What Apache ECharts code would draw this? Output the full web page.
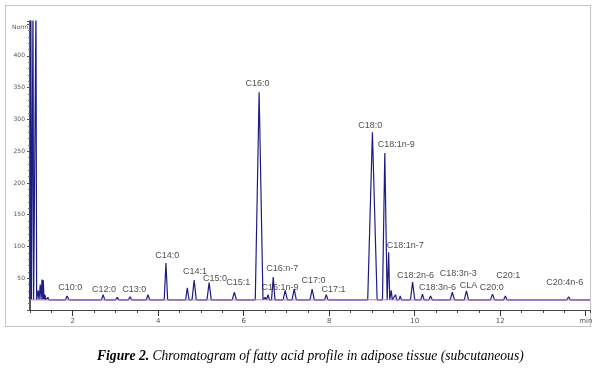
<!DOCTYPE html>
<html>
<head>
<meta charset="utf-8">
<script src="https://cdn.jsdelivr.net/npm/echarts@6/dist/echarts.min.js"></script>
<style>
  html, body { margin: 0; padding: 0; background: #fff; }
  #chart { width: 596px; height: 373px; }
</style>
</head>
<body>
<div id="chart"></div>
<script>
// retention time (min), peak height (Norm.), half width (min)
var peakTimes   = [1.02, 1.07, 1.14, 1.19, 1.24, 1.28, 1.31, 1.35, 1.42, 1.87, 2.71, 3.04, 3.34, 3.76, 4.18, 4.68, 4.84, 5.19, 5.45, 5.78, 6.03, 6.36, 6.50, 6.57, 6.69, 6.97, 7.18, 7.60, 7.93, 8.26, 9.01, 9.30, 9.39, 9.45, 9.55, 9.66, 9.95, 10.18, 10.37, 10.88, 11.21, 11.54, 11.82, 12.12, 13.60];
var peakHeights = [480, 480, 480, 31, 40, 48, 47, 24, 20, 22, 24, 20, 21, 24, 74, 35, 47, 43, 19, 28, 18, 343, 20, 24, 52, 31, 33, 33, 24, 19, 280, 247, 91, 31, 24, 22, 44, 25, 22, 28, 30, 18, 25, 22, 21];
var peakWidths  = [0.015, 0.015, 0.015, 0.02, 0.02, 0.02, 0.02, 0.02, 0.02, 0.04, 0.04, 0.04, 0.04, 0.04, 0.04, 0.04, 0.05, 0.05, 0.04, 0.05, 0.04, 0.09, 0.03, 0.03, 0.04, 0.05, 0.05, 0.05, 0.04, 0.04, 0.11, 0.055, 0.025, 0.025, 0.03, 0.03, 0.05, 0.04, 0.04, 0.05, 0.05, 0.04, 0.05, 0.04, 0.04];
var baseline = 16;

// peak names and where their labels sit (data units)
var labelNames = ['C10:0', 'C12:0', 'C13:0', 'C14:0', 'C14:1', 'C15:0', 'C15:1', 'C16:0', 'C16:n-7', 'C16:1n-9', 'C17:0', 'C17:1', 'C18:0', 'C18:1n-9', 'C18:1n-7', 'C18:2n-6', 'C18:3n-3', 'C18:3n-6', 'CLA', 'C20:0', 'C20:1', 'C20:4n-6'];
var labelTimes = [1.94, 2.73, 3.44, 4.21, 4.86, 5.33, 5.87, 6.32, 6.90, 6.85, 7.63, 8.10, 8.96, 9.57, 9.78, 10.02, 11.02, 10.53, 11.26, 11.80, 12.19, 13.51];
var labelValues = [36, 33, 33, 85, 60, 49, 43, 356, 66, 36, 46, 33, 290, 261, 101, 55, 57, 35, 38, 35, 54, 43];

var yLabels = [50, 100, 150, 200, 250, 300, 350, 400];
var xLabels = [2, 4, 6, 8, 10, 12];

var trace = [[1.0, baseline]];
for (var i = 0; i < peakTimes.length; i++) {
  trace.push([peakTimes[i] - peakWidths[i], baseline]);
  trace.push([peakTimes[i], peakHeights[i]]);
  trace.push([peakTimes[i] + peakWidths[i], baseline]);
}
trace.push([14.1, baseline]);

var labelData = [];
for (var j = 0; j < labelNames.length; j++) {
  labelData.push({ name: labelNames[j], value: [labelTimes[j], labelValues[j]] });
}

var chart = echarts.init(document.getElementById('chart'), null, { renderer: 'canvas' });
chart.setOption({
  animation: false,
  backgroundColor: '#fff',
  grid: { left: 30, right: 6, top: 21, bottom: 63 },
  xAxis: [
    {
      type: 'value',
      min: 1,
      max: 14.1,
      interval: 0.5,
      axisLine: { lineStyle: { color: '#444', width: 1 } },
      axisTick: { length: 3, lineStyle: { color: '#444' } },
      axisLabel: { show: false },
      splitLine: { show: false }
    },
    {
      type: 'value',
      min: 1,
      max: 14.1,
      position: 'bottom',
      axisLine: { show: false },
      axisTick: { show: true, length: 6, customValues: [2, 4, 6, 8, 10, 12, 14], lineStyle: { color: '#333' } },
      axisLabel: {
        customValues: xLabels.concat([14]),
        formatter: function (v) { return v === 14 ? 'min' : String(v); },
        fontSize: 7,
        color: '#555',
        margin: 8,
        fontFamily: 'DejaVu Sans'
      },
      splitLine: { show: false }
    }
  ],
  yAxis: {
    type: 'value',
    min: 0,
    max: 455,
    interval: 50,
    axisLine: { show: true, lineStyle: { color: '#222', width: 1.5 } },
    axisTick: { show: true, length: 3, lineStyle: { color: '#555' } },
    minorTick: { show: true, splitNumber: 5, length: 2, lineStyle: { color: '#777' } },
    axisLabel: {
      formatter: function (v) { return yLabels.indexOf(v) >= 0 ? String(v) : ''; },
      fontSize: 6,
      color: '#555',
      margin: 5,
      fontFamily: 'DejaVu Sans'
    },
    splitLine: { show: false }
  },
  series: [
    {
      type: 'line',
      data: trace,
      symbol: 'none',
      lineStyle: { color: '#1c1c82', width: 1.2 },
      clip: true,
      z: 3
    },
    {
      type: 'line',
      data: [[1.0, baseline], [14.1, baseline]],
      symbol: 'none',
      lineStyle: { color: '#d070d0', width: 1 },
      z: 4
    },
    {
      type: 'scatter',
      data: labelData,
      symbolSize: 0,
      label: {
        show: true,
        position: 'inside',
        formatter: '{b}',
        fontSize: 9,
        color: '#222',
        fontFamily: 'Liberation Sans'
      },
      z: 5
    }
  ],
  graphic: [
    {
      type: 'rect',
      shape: { x: 5.5, y: 5.5, width: 585, height: 321 },
      style: { fill: 'none', stroke: '#888', lineWidth: 1, lineDash: [1, 1] },
      silent: true
    },
    {
      type: 'text',
      left: 12,
      top: 24,
      style: { text: 'Norm.', fontSize: 6, fill: '#555', fontFamily: 'DejaVu Sans' }
    },
    {
      type: 'text',
      left: 97,
      top: 349,
      style: {
        text: '{b|Figure 2.} {i|Chromatogram of fatty acid profile in adipose tissue (subcutaneous)}',
        rich: {
          b: { fontFamily: 'Liberation Serif', fontStyle: 'italic', fontWeight: 'bold', fontSize: 13.6, fill: '#000' },
          i: { fontFamily: 'Liberation Serif', fontStyle: 'italic', fontSize: 13.6, fill: '#000' }
        }
      }
    }
  ]
});
</script>
</body>
</html>
